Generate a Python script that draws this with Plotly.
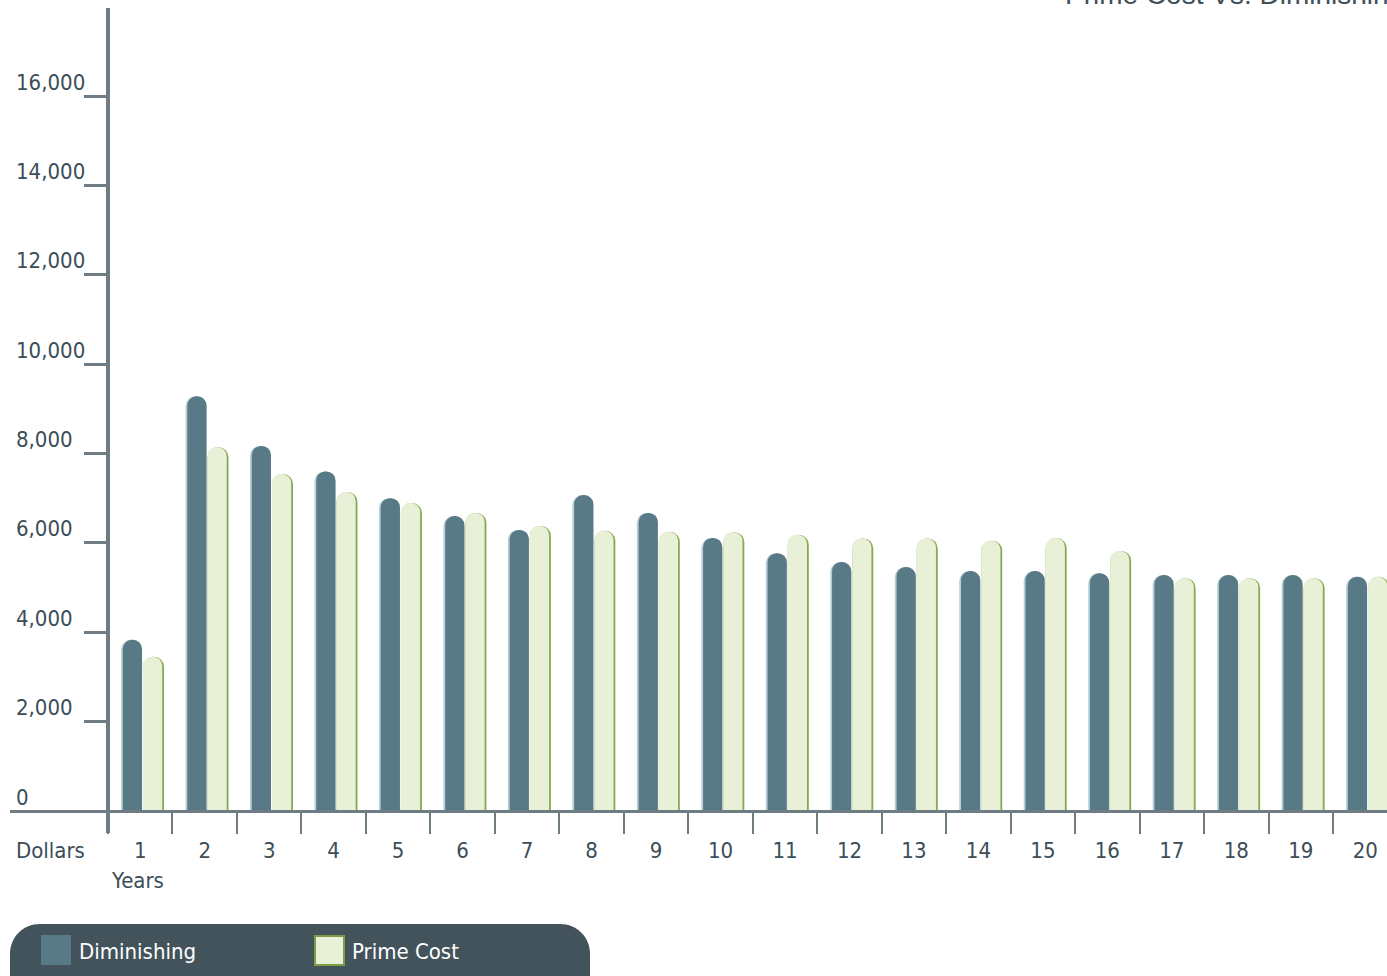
import plotly.graph_objects as go

# ---------------- data ----------------
years = [str(i) for i in range(1, 21)]
diminishing = [3830, 9280, 8170, 7600, 7000, 6600, 6290, 7070, 6670, 6110,
               5770, 5570, 5460, 5370, 5370, 5320, 5280, 5280, 5280, 5240]
prime_cost = [3450, 8140, 7540, 7140, 6890, 6670, 6380, 6270, 6250, 6240,
              6180, 6100, 6100, 6050, 6110, 5820, 5210, 5210, 5210, 5240]
series_names = ["Diminishing", "Prime Cost"]
y_tick_vals = [0, 2000, 4000, 6000, 8000, 10000, 12000, 14000, 16000]
y_tick_text = ["0", "2,000", "4,000", "6,000", "8,000", "10,000", "12,000", "14,000", "16,000"]
title_text = "Prime Cost Vs. Diminishing"
y_title = "Dollars"
x_title = "Years"

# ---------------- styling ----------------
W, H = 1387, 976
FONT = "DejaVu Sans Condensed, DejaVu Sans, Verdana, sans-serif"
TXT = "#3b4d57"
AXIS = "#6f7c83"
D_COL = "#587a86"
D_EDGE = "#b8cfd7"
P_COL = "#e9f0d8"
P_EDGE = "#88a94f"


def X(px):
    return px / W


def Y(py):
    return 1 - py / H


fig = go.Figure()
# Diminishing: light edge bar then main bar
fig.add_trace(go.Bar(x=years, y=diminishing, offset=-0.298, width=0.326,
                     marker=dict(color=D_EDGE, cornerradius=10, line=dict(width=0)),
                     hoverinfo="skip", showlegend=False))
fig.add_trace(go.Bar(x=years, y=diminishing, offset=-0.270, width=0.298,
                     name=series_names[0],
                     marker=dict(color=D_COL, cornerradius=10, line=dict(width=0)),
                     showlegend=False))
# Prime cost: green edge bar then main fill
fig.add_trace(go.Bar(x=years, y=prime_cost, offset=0.043, width=0.326,
                     marker=dict(color=P_EDGE, cornerradius=10, line=dict(width=0)),
                     hoverinfo="skip", showlegend=False))
fig.add_trace(go.Bar(x=years, y=prime_cost, offset=0.043, width=0.298,
                     name=series_names[1],
                     marker=dict(color=P_COL, cornerradius=10, line=dict(width=0)),
                     showlegend=False))

y_top = (811 - 8) / ((811 - 96) / 16000)

fig.update_layout(
    width=W, height=H,
    margin=dict(l=0, r=0, t=0, b=0),
    paper_bgcolor="white", plot_bgcolor="white",
    barmode="overlay",
    font=dict(family=FONT, size=22, color=TXT),
    xaxis=dict(type="category", domain=[X(108), 1], range=[-0.5, 19.337],
               showline=False, showgrid=False, zeroline=False,
               tickson="boundaries", ticks="outside", ticklen=22, tickwidth=2,
               tickcolor=AXIS, tickfont=dict(family=FONT, size=22, color=TXT),
               ticklabelstandoff=24),
    yaxis=dict(domain=[Y(811), Y(8)], range=[0, y_top],
               showline=False, showgrid=False, zeroline=False,
               tickvals=y_tick_vals[1:], ticks="outside", ticklen=23, tickwidth=3,
               tickcolor=AXIS, showticklabels=False),
)

shapes = []
# x axis line
shapes.append(dict(type="line", xref="paper", yref="paper", x0=X(10), x1=1,
                   y0=Y(811.5), y1=Y(811.5), line=dict(color=AXIS, width=3)))
# y axis line
shapes.append(dict(type="line", xref="paper", yref="paper", x0=X(108), x1=X(108),
                   y0=Y(8), y1=Y(833), line=dict(color=AXIS, width=4)))
# legend pill
pill = ("M {a},{t} L {b},{t} C {c},{t} {r},{d} {r},{e} L {r},{f} L {l},{f} L {l},{e} "
        "C {l},{d} {g},{t} {a},{t} Z").format(
    a=X(40), b=X(560), c=X(577), r=X(590), l=X(10), g=X(23),
    t=Y(924), d=Y(937), e=Y(954), f=Y(990))
shapes.append(dict(type="path", xref="paper", yref="paper", path=pill,
                   fillcolor="#43535c", line=dict(width=0)))
# legend swatches
shapes.append(dict(type="rect", xref="paper", yref="paper", x0=X(41), x1=X(71),
                   y0=Y(965), y1=Y(935), fillcolor=D_COL, line=dict(width=0)))
shapes.append(dict(type="rect", xref="paper", yref="paper", x0=X(315), x1=X(344),
                   y0=Y(965), y1=Y(936), fillcolor=P_COL, line=dict(color="#7f9c48", width=2)))

annotations = []
for v, t in zip(y_tick_vals, y_tick_text):
    annotations.append(dict(text=t, xref="paper", yref="y", x=X(14), y=v,
                            xanchor="left", yanchor="middle", yshift=14,
                            showarrow=False, font=dict(family=FONT, size=22, color=TXT)))
annotations.append(dict(text=y_title, xref="paper", yref="paper", x=X(14), y=Y(850),
                        xanchor="left", yanchor="middle", showarrow=False,
                        font=dict(family=FONT, size=22, color=TXT)))
annotations.append(dict(text=x_title, xref="paper", yref="paper", x=X(109), y=Y(880),
                        xanchor="left", yanchor="middle", showarrow=False,
                        font=dict(family=FONT, size=22, color=TXT)))
annotations.append(dict(text=title_text, xref="paper", yref="paper", x=X(1063), y=Y(12),
                        xanchor="left", yanchor="bottom", showarrow=False,
                        font=dict(family="Liberation Sans, Arial, sans-serif", size=28, color="#3f5059")))
annotations.append(dict(text=series_names[0], xref="paper", yref="paper", x=X(77), y=Y(951),
                        xanchor="left", yanchor="middle", showarrow=False,
                        font=dict(family=FONT, size=22, color="white")))
annotations.append(dict(text=series_names[1], xref="paper", yref="paper", x=X(350), y=Y(951),
                        xanchor="left", yanchor="middle", showarrow=False,
                        font=dict(family=FONT, size=22, color="white")))

fig.update_layout(shapes=shapes, annotations=annotations)
fig.write_html("out.html")
